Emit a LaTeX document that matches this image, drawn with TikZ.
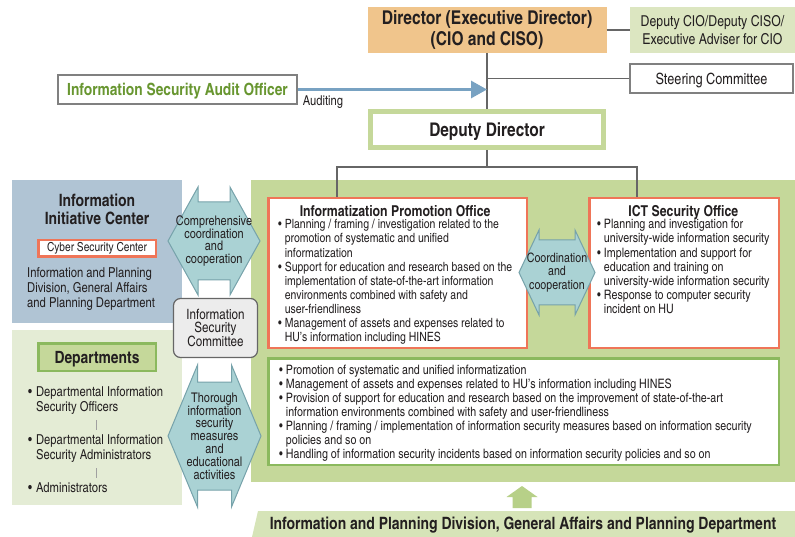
\documentclass[tikz,border=0pt]{standalone}
\usepackage{fontspec}
\setmainfont{TeX Gyre Heros Cn}
\usepackage{xcolor}
\usepackage{tikz}
\usetikzlibrary{positioning}
\usetikzlibrary{arrows.meta}

\definecolor{dirorange}{RGB}{240,197,140}
\definecolor{palegreen}{RGB}{220,230,193}
\definecolor{leafgreen}{RGB}{197,216,154}
\definecolor{darkgreen}{RGB}{139,185,94}
\definecolor{coral}{RGB}{239,117,88}
\definecolor{steelblue}{RGB}{176,196,212}
\definecolor{mistgreen}{RGB}{228,236,213}
\definecolor{coopteal}{RGB}{170,210,212}
\definecolor{coopedge}{RGB}{118,162,170}
\definecolor{linegray}{RGB}{102,102,102}
\definecolor{boxgray}{RGB}{128,128,128}
\definecolor{auditblue}{RGB}{120,162,194}
\definecolor{audittext}{RGB}{104,150,48}
\definecolor{ink}{RGB}{35,31,32}
\definecolor{bannergreen}{RGB}{214,228,184}
\definecolor{liftgreen}{RGB}{183,208,136}
\definecolor{cloud}{RGB}{236,236,236}
\definecolor{tickgray}{RGB}{160,160,160}

\tikzstyle{chief}=[rectangle,fill=dirorange,minimum width=239pt,minimum height=46pt,align=center,font=\fontsize{19}{21.5}\selectfont\bfseries]
\tikzstyle{advisor}=[rectangle,fill=palegreen,minimum width=165pt,minimum height=46pt,align=center,font=\fontsize{15}{18}\selectfont]
\tikzstyle{plainbox}=[rectangle,draw=boxgray,line width=1.6pt,fill=white,minimum height=29.4pt,text depth=0pt]
\tikzstyle{deputy}=[rectangle,draw=leafgreen,line width=5pt,fill=white,minimum width=233pt,minimum height=36pt,text depth=0pt,font=\fontsize{18.8}{21}\selectfont\bfseries]
\tikzstyle{zone}=[rectangle,inner sep=0pt,anchor=north west]
\tikzstyle{office}=[rectangle,draw=coral,line width=2.5pt,fill=white]
\tikzstyle{duty}=[rectangle,draw=darkgreen,line width=2.5pt,fill=white]
\tikzstyle{officetext}=[inner sep=0pt,font=\fontsize{13}{14.1}\selectfont]
\tikzstyle{redbox}=[rectangle,draw=coral,line width=2.5pt,fill=white,minimum width=117.5pt,minimum height=16.5pt,inner sep=0pt,font=\fontsize{12.4}{14}\selectfont]
\tikzstyle{deptbox}=[rectangle,draw=darkgreen,line width=2.5pt,fill=leafgreen,minimum width=117.5pt,minimum height=27.5pt,text depth=0pt,font=\fontsize{16.9}{18}\selectfont\bfseries]
\tikzstyle{item}=[anchor=west,inner sep=0pt,font=\fontsize{13.7}{15}\selectfont]
\tikzstyle{committee}=[rectangle,rounded corners=7pt,draw=linegray,line width=1.2pt,fill=cloud,minimum width=84pt,minimum height=59pt,align=center,font=\fontsize{14.2}{13}\selectfont]
\tikzstyle{coop}=[draw=coopedge,line width=1pt,fill=coopteal,line join=miter]
\tikzstyle{cooptext}=[align=center,inner sep=0pt,font=\fontsize{13.3}{12.8}\selectfont]
\tikzstyle{link}=[draw=linegray,line width=1.8pt]
\tikzstyle{audit}=[draw=auditblue,line width=3pt,-{Triangle[length=16pt,width=17pt]}]
\tikzstyle{tick}=[draw=tickgray,line width=0.8pt,shorten <=4pt,shorten >=4pt]
\tikzstyle{banner}=[font=\fontsize{17}{18}\selectfont\bfseries]

\begin{document}
\begin{tikzpicture}[x=1pt,y=-1pt,every node/.style={text=ink}]
\useasboundingbox (0,0) rectangle (795,537);
%Zones
\node[zone,fill=leafgreen,minimum width=544pt,minimum height=302pt] (hub) at (251,180) {};
\node[zone,fill=steelblue,minimum width=170pt,minimum height=143pt] (iic) at (12,180) {};
\node[zone,fill=mistgreen,minimum width=170pt,minimum height=175pt] (deptzone) at (12,330) {};
\fill[bannergreen] (258,511) -- (795,511) -- (795,537) -- (252,537) -- cycle;
\node[banner] (ipd) at (523,525.5) {Information and Planning Division, General Affairs and Planning Department};
%Top of the chart
\node[chief] (dir) at (487,30) {Director (Executive Director)\\(CIO and CISO)};
\node[advisor] (cio) at (712.5,30) {Deputy CIO/Deputy CISO/\\Executive Adviser for CIO};
\node[plainbox,minimum width=163.4pt,font=\fontsize{15.5}{18}\selectfont] (steer) at (711.5,78.5) {Steering Committee};
\node[plainbox,minimum width=239.4pt,text=audittext,font=\fontsize{16.8}{18}\selectfont\bfseries] (audit) at (177.5,89.5) {Information Security Audit Officer};
\node[deputy] (dep) at (487,129.5) {Deputy Director};
\node[office,minimum width=258.5pt,minimum height=149.5pt] (ipo) at (397.5,273) {};
\node[office,minimum width=189.5pt,minimum height=149.5pt] (ict) at (684,273) {};
\node[duty,minimum width=510.5pt,minimum height=106.5pt] (duties) at (523.5,411.5) {};
\coordinate (ipodrop) at (337,167);
\coordinate (ictdrop) at (637,167);
%Drawing Edges
\draw[link] (dir) -- (cio);
\draw[link] (dir) -- (dep);
\draw[link] (steer.west) -- (steer.west -| dir.south);
\draw[audit] (audit.east) -- (audit.east -| dir.south) node[pos=0,anchor=north west,yshift=-1pt,font=\fontsize{13.6}{14}\selectfont]{Auditing};
\draw[link] (dep.south) -- (dep.south |- ipodrop);
\draw[link] (ipo.north -| ipodrop) -- (ipodrop) -- (ictdrop) -- (ict.north -| ictdrop);
%Offices
\node[officetext,font=\fontsize{12.75}{14.1}\selectfont,below right=8pt and 11pt of ipo.north west] (ipotxt) {\begin{tabular}{@{}l@{\hspace{3pt}}l@{}}
\multicolumn{2}{c}{\fontsize{15}{14}\selectfont\bfseries Informatization Promotion Office}\\[-1.5pt]
\textbullet & Planning / framing / investigation related to the\\
& promotion of systematic and unified\\
& informatization\\
\textbullet & Support for education and research based on the\\
& implementation of state-of-the-art information\\
& environments combined with safety and\\
& user-friendliness\\
\textbullet & Management of assets and expenses related to\\
& HU's information including HINES
\end{tabular}};
\node[officetext,below right=8pt and 9pt of ict.north west] (icttxt) {\begin{tabular}{@{}l@{\hspace{3pt}}l@{}}
\multicolumn{2}{c}{\fontsize{15}{14}\selectfont\bfseries ICT Security Office}\\[-1.5pt]
\textbullet & Planning and investigation for\\
& university-wide information security\\
\textbullet & Implementation and support for\\
& education and training on\\
& university-wide information security\\
\textbullet & Response to computer security\\
& incident on HU
\end{tabular}};
\node[officetext,below right=7pt and 12pt of duties.north west] (dutytxt) {\begin{tabular}{@{}l@{\hspace{3pt}}l@{}}
\textbullet & Promotion of systematic and unified informatization\\
\textbullet & Management of assets and expenses related to HU's information including HINES\\
\textbullet & Provision of support for education and research based on the improvement of state-of-the-art\\
& information environments combined with safety and user-friendliness\\
\textbullet & Planning / framing / implementation of information security measures based on information security\\
& policies and so on\\
\textbullet & Handling of information security incidents based on information security policies and so on
\end{tabular}};
%Left side
\node[font=\fontsize{17}{18}\selectfont\bfseries,align=center] (iictitle) at (97,209) {Information\\Initiative Center};
\node[redbox] (cyber) at (97,248.5) {Cyber Security Center};
\node[item,anchor=north west] (iicbody) at (27,266.5) {\begin{tabular}{@{}l@{}}Information and Planning\\Division, General Affairs\\and Planning Department\end{tabular}};
\node[deptbox] (dept) at (97,357) {Departments};
\node[item] (dso) at (28,401) {\begin{tabular}{@{}l@{\hspace{4pt}}l@{}}\textbullet & Departmental Information\\ & Security Officers\end{tabular}};
\node[item] (dsa) at (28,449) {\begin{tabular}{@{}l@{\hspace{4pt}}l@{}}\textbullet & Departmental Information\\ & Security Administrators\end{tabular}};
\node[item] (adm) at (28,489.5) {\begin{tabular}{@{}l@{\hspace{4pt}}l@{}}\textbullet & Administrators\end{tabular}};
\coordinate (stem) at (96,0);
\draw[tick] (dso.south -| stem) -- (dsa.north -| stem);
\draw[tick] (dsa.south -| stem) -- (adm.north -| stem);
%Cooperation arrows
\coordinate (compc) at (214,241);
\draw[coop,shift={(compc)}] (-46,0) -- (-16,-54) -- (-16,-39) -- (16,-39) -- (16,-54) -- (46,0) -- (16,54) -- (16,39) -- (-16,39) -- (-16,54) -- cycle;
\node[cooptext] (comp) at (compc) {Comprehensive\\coordination\\and\\cooperation};
\node[committee] (isc) at (215.5,328) {Information\\Security\\Committee};
\coordinate (thorc) at (214.5,436);
\draw[coop,shift={(thorc)}] (-46.5,0) -- (-17,-71) -- (-17,-54) -- (17,-54) -- (17,-71) -- (46.5,0) -- (17,71) -- (17,54) -- (-17,54) -- (-17,71) -- cycle;
\node[cooptext] (thor) at (thorc) {Thorough\\information\\security\\measures\\and\\educational\\activities};
\coordinate (coordc) at (557,272.5);
\draw[coop,shift={(coordc)}] (-38,0) -- (-18,-42.5) -- (-18,-32.5) -- (18,-32.5) -- (18,-42.5) -- (38,0) -- (18,42.5) -- (18,32.5) -- (-18,32.5) -- (-18,42.5) -- cycle;
\node[cooptext,font=\fontsize{13}{13.5}\selectfont] (coord) at (coordc) {Coordination\\and\\cooperation};
%Support arrow
\coordinate (lift) at (522,497);
\fill[liftgreen,shift={(lift)}] (0,-11) -- (15.5,0) -- (9.5,0) -- (9.5,11) -- (-9.5,11) -- (-9.5,0) -- (-15.5,0) -- cycle;
\end{tikzpicture}
\end{document}
